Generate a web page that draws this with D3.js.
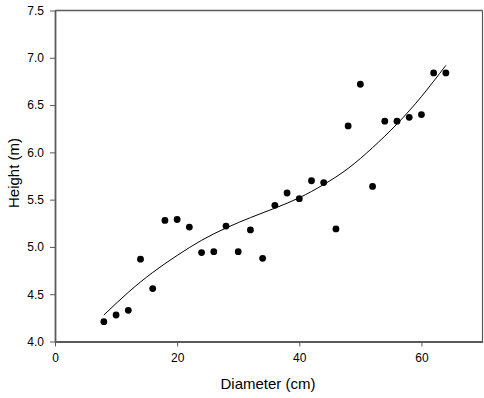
<!DOCTYPE html>
<html><head><meta charset="utf-8">
<script src="https://cdn.jsdelivr.net/npm/d3@7"></script>
<style>body{margin:0;background:#fff}svg{display:block}</style>
</head><body>
<script>
const diameter = [8,10,12,14,16,18,20,22,24,26,28,30,32,34,36,38,40,42,44,46,48,50,52,54,56,58,60,62,64];
const height   = [4.21,4.28,4.33,4.87,4.56,5.28,5.29,5.21,4.94,4.95,5.22,4.95,5.18,4.88,5.44,5.57,5.51,5.70,5.68,5.19,6.28,6.72,5.64,6.33,6.33,6.37,6.40,6.84,6.84];
const fitX = [8,12,16,20,24,28,32,36,40,44,48,52,56,60,64];
const fitY = [4.28,4.52,4.73,4.91,5.07,5.20,5.31,5.41,5.52,5.66,5.83,6.05,6.30,6.59,6.92];
const xTicks = [0,20,40,60];
const yTicks = [4.0,4.5,5.0,5.5,6.0,6.5,7.0,7.5];

const W=484,H=398;
const svg=d3.select("body").append("svg").attr("width",W).attr("height",H);
const x=d3.scaleLinear().domain([0,70]).range([55,482.5]);
const y=d3.scaleLinear().domain([4,7.5]).range([341.5,10.5]);
const font="Liberation Sans, Arial, sans-serif";
const axCol="#5a5a5a";

// frame
svg.append("line").attr("x1",x(0)).attr("x2",x(70)).attr("y1",y(7.5)).attr("y2",y(7.5)).attr("stroke",axCol).attr("stroke-width",1.3);
svg.append("line").attr("x1",x(70)).attr("x2",x(70)).attr("y1",y(7.5)).attr("y2",y(4)).attr("stroke",axCol).attr("stroke-width",1.2);

const xa=svg.append("g").attr("transform",`translate(0,${y(4)})`)
  .call(d3.axisBottom(x).tickValues(xTicks).tickFormat(d3.format("d")).tickSize(5).tickPadding(7).tickSizeOuter(0));
const ya=svg.append("g").attr("transform",`translate(${x(0)},0)`)
  .call(d3.axisLeft(y).tickValues(yTicks).tickFormat(d3.format(".1f")).tickSize(5).tickPadding(6).tickSizeOuter(0));
[xa,ya].forEach(g=>{
  g.select(".domain").attr("stroke",axCol).attr("stroke-width",1.8);
  g.selectAll(".tick line").attr("stroke",axCol).attr("stroke-width",1);
  g.selectAll("text").attr("font-family",font).attr("font-size",12).attr("fill","#000");
});

// fit curve
svg.append("path").datum(fitX.map((d,i)=>[d,fitY[i]]))
  .attr("d",d3.line().x(d=>x(d[0])).y(d=>y(d[1])).curve(d3.curveNatural))
  .attr("fill","none").attr("stroke","#000").attr("stroke-width",1);

// points
svg.append("g").selectAll("circle").data(diameter.map((d,i)=>[d,height[i]])).join("circle")
  .attr("cx",d=>x(d[0])).attr("cy",d=>y(d[1])).attr("r",3.4).attr("fill","#000");

svg.append("text").attr("x",268).attr("y",389).attr("text-anchor","middle")
  .attr("font-family",font).attr("font-size",15).text("Diameter (cm)");
svg.append("text").attr("transform",`translate(19,173) rotate(-90)`).attr("text-anchor","middle")
  .attr("font-family",font).attr("font-size",15).text("Height (m)");
</script>
</body></html>
